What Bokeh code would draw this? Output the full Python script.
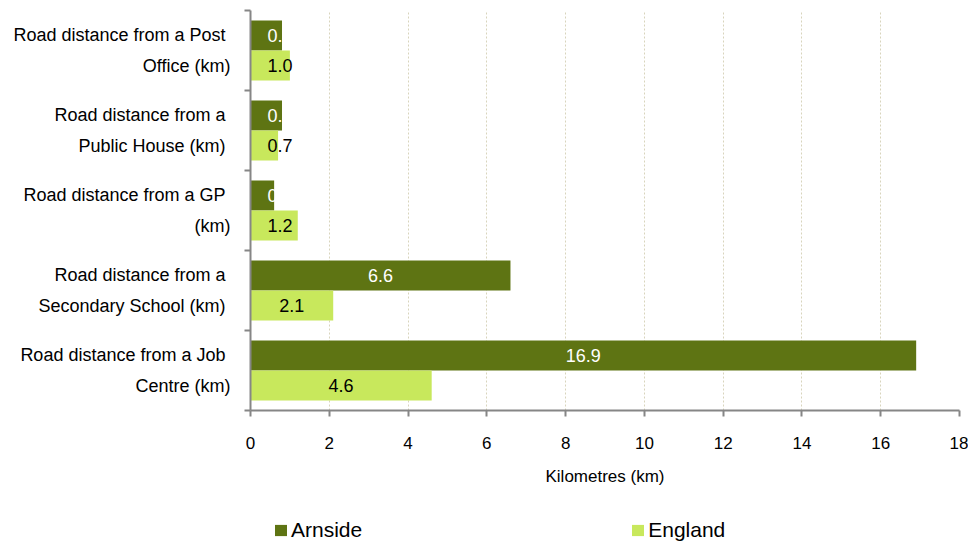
from bokeh.plotting import figure
from bokeh.layouts import column
from bokeh.models import (ColumnDataSource, FactorRange, Range1d, LinearAxis, CategoricalAxis,
                          FixedTicker, Legend, LegendItem)
from bokeh.transform import dodge
from bokeh.core.properties import value
from bokeh.embed import file_html
from bokeh.resources import INLINE

categories = ["Road distance from  a Post\nOffice (km)",
              "Road distance from  a\nPublic House  (km)",
              "Road distance from  a GP\n(km)",
              "Road distance from  a\nSecondary School  (km)",
              "Road distance from  a Job\nCentre (km)"]
arnside = [0.8, 0.8, 0.6, 6.6, 16.9]
england = [1.0, 0.7, 1.2, 2.1, 4.6]
x_ticks = [0, 2, 4, 6, 8, 10, 12, 14, 16, 18]
series = ["Arnside", "England"]

ARN = "#5e7413"
ENG = "#c8e85c"
FONT = "Liberation Sans"

src = ColumnDataSource(dict(
    cat=categories,
    arn=arnside,
    eng=england,
    arn_lab=["%.1f" % v for v in arnside],
    eng_lab=["%.1f" % v for v in england],
    arn_x=[max(v / 2, 0.75) for v in arnside],
    eng_x=[max(v / 2, 0.75) for v in england],
))

p = figure(width=968, height=500, output_backend="svg", toolbar_location=None,
           x_range=Range1d(0, 18),
           y_range=FactorRange(factors=list(reversed(categories)), range_padding=0),
           y_axis_location=None, x_axis_location="below",
           min_border_left=250, min_border_right=9, min_border_top=10, min_border_bottom=90)
p.outline_line_color = None
p.background_fill_color = "white"

# grid
p.ygrid.grid_line_color = None
p.xgrid.ticker = FixedTicker(ticks=x_ticks)
p.xgrid.grid_line_color = "#d8d4bc"
p.xgrid.grid_line_dash = "2 2"
p.xgrid.grid_line_width = 1

bh = 0.375
r1 = p.hbar(y=dodge("cat", bh / 2, range=p.y_range), right="arn", left=0, height=bh,
            source=src, fill_color=ARN, line_color=None)
r2 = p.hbar(y=dodge("cat", -bh / 2, range=p.y_range), right="eng", left=0, height=bh,
            source=src, fill_color=ENG, line_color=None)

p.text(x="arn_x", y=dodge("cat", bh / 2, range=p.y_range), text="arn_lab", source=src,
       text_align="center", text_baseline="middle", text_color="white",
       text_font=value(FONT), text_font_size="18px")
p.text(x="eng_x", y=dodge("cat", -bh / 2, range=p.y_range), text="eng_lab", source=src,
       text_align="center", text_baseline="middle", text_color="black",
       text_font=value(FONT), text_font_size="18px")

# x axis
xa = p.xaxis[0]
xa.ticker = FixedTicker(ticks=x_ticks)
xa.axis_line_color = "#868686"
xa.axis_line_width = 2
xa.major_tick_line_color = "#868686"
xa.major_tick_line_width = 2
xa.major_tick_out = 6
xa.major_tick_in = 0
xa.minor_tick_line_color = None
xa.major_label_text_font = FONT
xa.major_label_text_font_size = "17px"
xa.major_label_text_color = "black"
xa.major_label_standoff = 20
xa.axis_label = "Kilometres (km)"
xa.axis_label_text_font = FONT
xa.axis_label_text_font_size = "17px"
xa.axis_label_text_font_style = "normal"
xa.axis_label_text_color = "black"
xa.axis_label_standoff = 15

# y tick axis (band boundaries, synthetic coordinates of the factor range)
ya_ticks = LinearAxis(ticker=FixedTicker(ticks=[0, 1, 2, 3, 4, 5]),
                      axis_line_color="#868686", axis_line_width=2,
                      major_tick_line_color="#868686", major_tick_line_width=2,
                      major_tick_out=6, major_tick_in=0, minor_tick_line_color=None,
                      major_label_overrides={i: "" for i in range(6)},
                      major_label_standoff=0)
p.add_layout(ya_ticks, "left")

ya = CategoricalAxis(axis_line_color=None, major_tick_line_color=None,
                     major_label_text_font=FONT, major_label_text_font_size="18px",
                     major_label_text_color="black", major_label_text_line_height=1.55,
                     major_label_standoff=8)
p.add_layout(ya, "left")

# legend strip below the chart (its frame is aligned with the chart's frame)
pl = figure(width=968, height=42, output_backend="svg", toolbar_location=None,
            x_range=Range1d(0, 1), y_range=Range1d(0, 1),
            x_axis_location=None, y_axis_location=None,
            min_border_left=0, min_border_right=0, min_border_top=0, min_border_bottom=0)
pl.outline_line_color = None
pl.grid.visible = False
lr1 = pl.hbar(y="arn", right="arn", left=0, height=0.5, source=src,
              fill_color=ARN, line_color=None, visible=False)
lr2 = pl.hbar(y="eng", right="eng", left=0, height=0.5, source=src,
              fill_color=ENG, line_color=None, visible=False)

legend = Legend(items=[LegendItem(label=series[0], renderers=[lr1]),
                       LegendItem(label=series[1], renderers=[lr2])],
                orientation="horizontal", location=(23, 0),
                glyph_width=15, glyph_height=14, label_standoff=3, label_height=20,
                label_text_font=FONT, label_text_font_size="21px",
                label_text_color="black",
                inactive_fill_alpha=0,
                spacing=268, padding=0, margin=0,
                border_line_color=None, background_fill_alpha=0)
pl.add_layout(legend, "center")

layout = column(p, pl, spacing=0)
open("out.html", "w").write(file_html(layout, INLINE))
